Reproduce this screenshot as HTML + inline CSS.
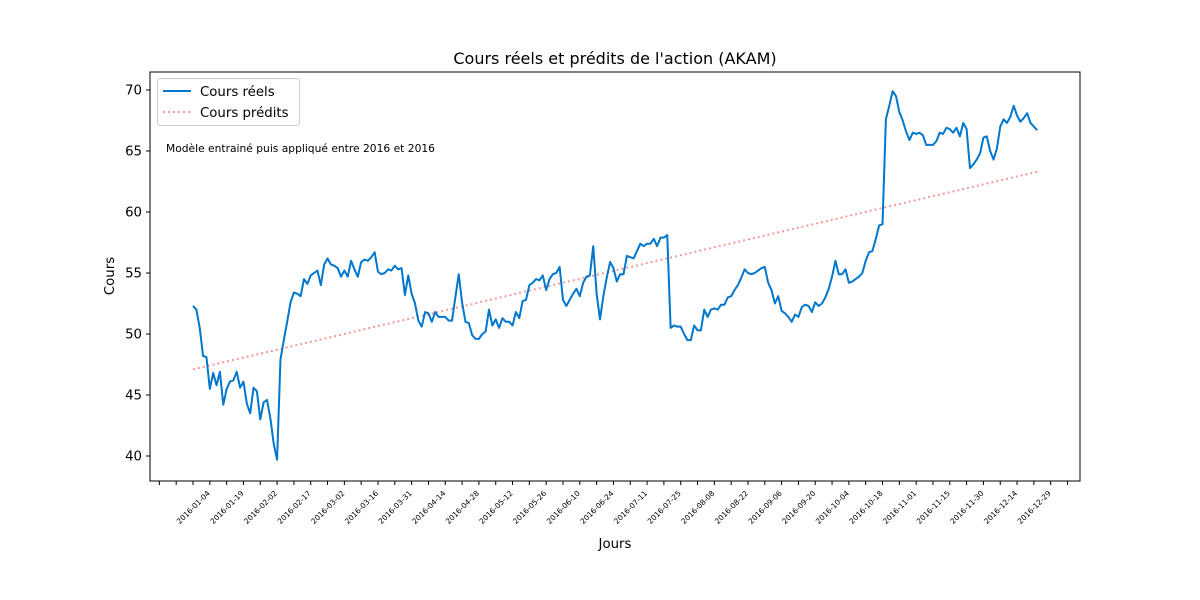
<!DOCTYPE html>
<html><head><meta charset="utf-8"><style>
body{margin:0;background:#fff}
svg{display:block;font-family:"DejaVu Sans","Liberation Sans",sans-serif}
</style></head><body>
<svg id="chart" width="1200" height="600">
<rect width="1200" height="600" fill="#fff"/>
<text x="615" y="64" text-anchor="middle" font-size="16">Cours réels et prédits de l'action (AKAM)</text>
<text x="615" y="548" text-anchor="middle" font-size="13.3">Jours</text>
<text transform="translate(114,276) rotate(-90)" text-anchor="middle" font-size="13.3">Cours</text>
<g id="axes"></g>
<g id="marks"></g>
<rect x="150" y="72" width="930" height="409" fill="none" stroke="#000" stroke-width="1"/>
<g>
<rect x="157.5" y="78.5" width="142" height="47" rx="3" fill="#fff" fill-opacity="0.8" stroke="#ccc"/>
<line x1="163" y1="91" x2="191" y2="91" stroke="#0077cc" stroke-width="2"/>
<text x="200" y="96" font-size="13.3">Cours réels</text>
<line x1="163" y1="112" x2="191" y2="112" stroke="#f08080" stroke-opacity="0.8" stroke-width="2" stroke-dasharray="2,3"/>
<text x="200" y="117" font-size="13.3">Cours prédits</text>
</g>
<text x="166" y="152" font-size="10.7">Modèle entrainé puis appliqué entre 2016 et 2016</text>
</svg>
<script>
const realPrices=[52.3,52.0,50.5,48.2,48.1,45.5,46.8,45.8,46.9,44.2,
45.5,46.1,46.2,46.9,45.6,46.1,44.3,43.5,45.6,45.3,
43.0,44.4,44.6,43.1,41.0,39.7,47.9,49.5,51.0,52.6,
53.4,53.3,53.1,54.5,54.1,54.8,55.0,55.2,54.0,55.7,
56.2,55.7,55.6,55.4,54.7,55.2,54.7,56.0,55.3,54.7,
55.9,56.1,56.0,56.3,56.7,55.1,54.9,55.0,55.3,55.2,
55.6,55.3,55.4,53.2,54.8,53.3,52.5,51.1,50.6,51.8,
51.7,51.0,51.8,51.4,51.4,51.4,51.1,51.1,53.0,54.9,
52.6,51.0,50.9,49.9,49.6,49.6,50.0,50.2,52.0,50.7,
51.2,50.5,51.3,51.0,51.0,50.7,51.8,51.3,52.7,52.8,
54.0,54.2,54.5,54.4,54.8,53.6,54.5,54.9,55.0,55.5,
52.8,52.3,52.8,53.3,53.7,53.1,54.2,54.7,54.8,57.2,
53.3,51.2,53.1,54.6,55.9,55.4,54.3,54.9,54.9,56.4,
56.3,56.2,56.8,57.4,57.2,57.4,57.4,57.8,57.2,57.9,
57.9,58.1,50.5,50.7,50.6,50.6,50.0,49.5,49.5,50.7,
50.3,50.3,52.0,51.4,52.0,52.1,52.0,52.4,52.4,53.0,
53.1,53.6,54.0,54.6,55.3,55.0,54.9,55.0,55.2,55.4,
55.5,54.2,53.6,52.5,53.1,51.9,51.7,51.4,51.0,51.6,
51.4,52.2,52.4,52.3,51.8,52.6,52.3,52.5,53.0,53.7,
54.7,56.0,54.9,54.9,55.3,54.2,54.3,54.5,54.7,55.0,
56.0,56.7,56.8,57.8,58.9,59.0,67.6,68.7,69.9,69.5,
68.2,67.5,66.6,65.9,66.5,66.4,66.5,66.3,65.5,65.5,
65.5,65.8,66.5,66.4,66.9,66.8,66.5,66.9,66.2,67.3,
66.8,63.6,63.9,64.3,64.8,66.1,66.2,65.0,64.3,65.2,
67.0,67.6,67.3,67.8,68.7,67.9,67.4,67.7,68.1,67.3,
67.0,66.7];
const predictedEnds=[47.1,63.3];
const yTicks=[40,45,50,55,60,65,70];
const dateLabels=["2016-01-04","2016-01-19","2016-02-02","2016-02-17","2016-03-02","2016-03-16","2016-03-31","2016-04-14","2016-04-28","2016-05-12","2016-05-26","2016-06-10","2016-06-24","2016-07-11","2016-07-25","2016-08-08","2016-08-22","2016-09-06","2016-09-20","2016-10-04","2016-10-18","2016-11-01","2016-11-15","2016-11-30","2016-12-14","2016-12-29"];
const NS="http://www.w3.org/2000/svg";
const xS=d=>193+d*3.3635;
const yS=v=>90+(70-v)*12.2;
const axes=document.getElementById('axes'),marks=document.getElementById('marks');
function mk(tag,attrs,parent){const e=document.createElementNS(NS,tag);for(const k in attrs)e.setAttribute(k,attrs[k]);parent.appendChild(e);return e;}
yTicks.forEach(v=>{
  const t=mk('line',{x1:146,x2:150,y1:yS(v),y2:yS(v),stroke:'#000'},axes);
  
  
  const l=mk('text',{x:142,y:yS(v)+4.5,'text-anchor':'end','font-size':13.3},axes);
  l.textContent=v;
  
  
});
for(let d=-10;d<=260;d+=5){
  const t=mk('line',{x1:xS(d),x2:xS(d),y1:481,y2:485,stroke:'#000'},axes);
  
  
}
dateLabels.forEach((s,i)=>{
  const x=xS(i*10),y=510;
  const l=mk('text',{x:x,y:y,'text-anchor':'middle','font-size':7.5,transform:`rotate(-45 ${x} ${y-3})`},axes);
  l.textContent=s;
  
  
});
const pl=mk('line',{x1:xS(0),y1:yS(predictedEnds[0]),x2:xS(realPrices.length-1),y2:yS(predictedEnds[1]),stroke:'#f08080','stroke-opacity':0.8,'stroke-width':2,'stroke-dasharray':'2,3'},marks);


const rl=mk('polyline',{points:realPrices.map((v,i)=>xS(i)+','+yS(v)).join(' '),fill:'none',stroke:'#0077cc','stroke-width':2,'stroke-linejoin':'round'},marks);


</script>
</body></html>
